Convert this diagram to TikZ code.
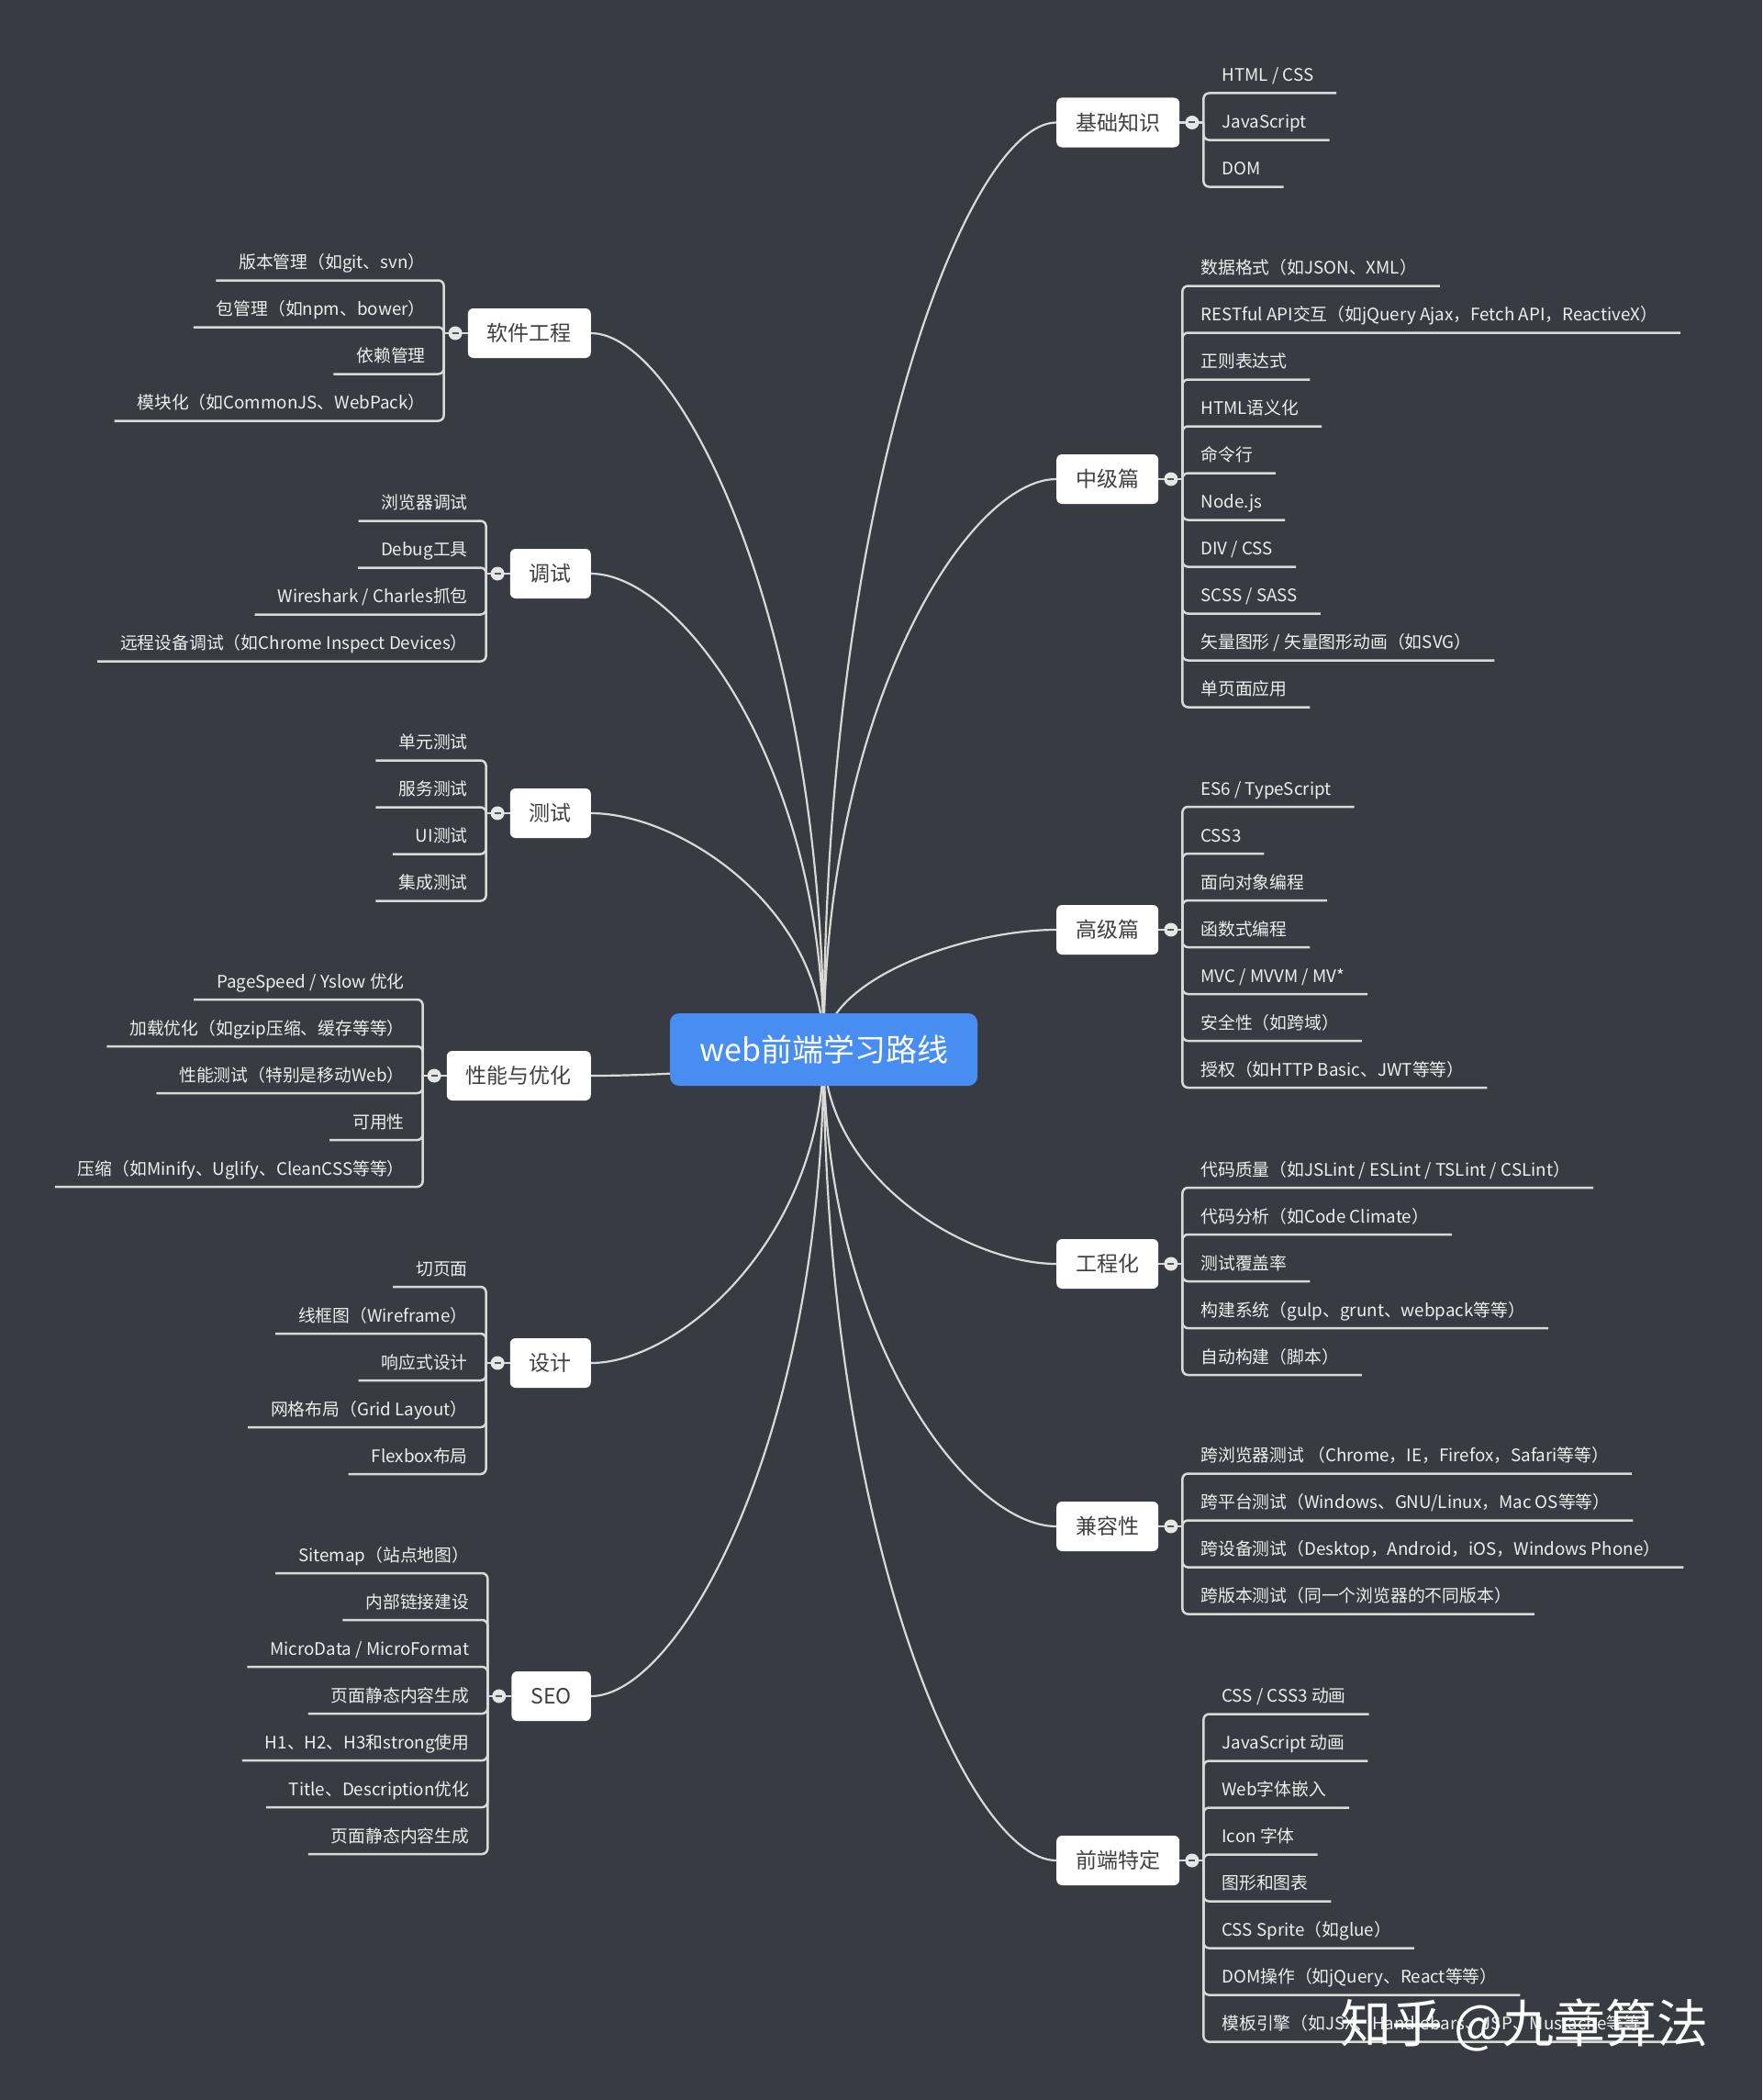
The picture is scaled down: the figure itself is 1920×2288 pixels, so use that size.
\documentclass[tikz,border=0pt]{standalone}
\usepackage{fontspec}
\setmainfont{Noto Sans CJK SC}
\usetikzlibrary{calc}
\pgfdeclarelayer{back}
\pgfsetlayers{back,main}

\begin{document}
\begin{tikzpicture}[x=1pt,y=-1pt]
	\definecolor{custcol_38_3b_41}{RGB}{56, 59, 65}
	\definecolor{custcol_48_8e_f2}{RGB}{72, 142, 242}
	\definecolor{custcol_d9_d9_d9}{RGB}{217, 217, 217}
	\definecolor{custcol_ee_ee_ee}{RGB}{238, 238, 238}
	\definecolor{custcol_e6_e6_e6}{RGB}{230, 230, 230}
	\definecolor{custcol_40_40_40}{RGB}{64, 64, 64}
	\definecolor{custcol_55_55_55}{RGB}{85, 85, 85}
	\tikzset{
		hub/.style={fill=custcol_48_8e_f2, text=white, rounded corners=10pt, minimum width=335pt, minimum height=79pt, font=\fontsize{34}{40}\selectfont},
		topic/.style={fill=white, text=custcol_40_40_40, rounded corners=6pt, inner xsep=21pt, minimum height=54pt, font=\fontsize{23}{26}\selectfont},
		leaf/.style={inner sep=0pt, outer sep=0pt, text=custcol_ee_ee_ee, font=\fontsize{18.8}{22}\selectfont},
		stem/.style={line width=2.5pt, custcol_d9_d9_d9},
		link/.style={line width=2.2pt, custcol_d9_d9_d9, to path={.. controls ($(\tikztostart)!0.6!(\tikztostart|-\tikztotarget)$) and ($(\tikztotarget)!0.38!(\tikztotarget-|\tikztostart)$) .. (\tikztotarget)}},
		knob/.style={circle, fill=custcol_e6_e6_e6, inner sep=0pt, minimum size=15pt, path picture={\draw[line width=2pt, custcol_55_55_55] ([xshift=4pt]path picture bounding box.west) -- ([xshift=-4pt]path picture bounding box.east);}},
		stamp/.style={text=white, font=\fontsize{56}{60}\selectfont}
	}
	% children on the right: #1 topic, #2 count, #3 texts
	\def\kidsR#1#2#3{%
		\path (#1.east) ++(13.5,0) coordinate (#1-c) ++(12.5,0) coordinate (#1-b);
		\draw[stem] (#1.east) -- (#1-b);
		\foreach \txt [count=\i] in {#3} {
			\pgfmathsetmacro\uy{(\i-(#2+1)/2)*51+19}
			\node[leaf, anchor=base west] (#1-\i) at ($(#1-b)+(20,\uy-13)$) {\txt};
			\draw[stem, rounded corners=6pt] (#1-b) |- ($(#1-\i.base east)+(25,13)$);
		}
		\node[knob] (#1-k) at (#1-c) {};
	}
	% children on the left
	\def\kidsL#1#2#3{%
		\path (#1.west) ++(-13.5,0) coordinate (#1-c) ++(-12.5,0) coordinate (#1-b);
		\draw[stem] (#1.west) -- (#1-b);
		\foreach \txt [count=\i] in {#3} {
			\pgfmathsetmacro\uy{(\i-(#2+1)/2)*51+19}
			\node[leaf, anchor=base east] (#1-\i) at ($(#1-b)+(-20,\uy-13)$) {\txt};
			\draw[stem, rounded corners=6pt] (#1-b) |- ($(#1-\i.base west)+(-25,13)$);
		}
		\node[knob] (#1-k) at (#1-c) {};
	}
	\useasboundingbox (0,0) rectangle (1920,2288);

	\node[hub] (hub) at (897.5,1143.5) {web前端学习路线};

	\node[topic, anchor=west] (jc) at (1151,133.5) {基础知识};
	\node[topic, anchor=west] (zj) at (1151,522) {中级篇};
	\node[topic, anchor=west] (gj) at (1151,1013) {高级篇};
	\node[topic, anchor=west] (gc) at (1151,1377) {工程化};
	\node[topic, anchor=west] (jr) at (1151,1663) {兼容性};
	\node[topic, anchor=west] (qd) at (1151,2027) {前端特定};

	\node[topic, anchor=east] (rj) at (644,363) {软件工程};
	\node[topic, anchor=east] (ts) at (644,625) {调试};
	\node[topic, anchor=east] (cs) at (644,886) {测试};
	\node[topic, anchor=east] (xn) at (644,1172) {性能与优化};
	\node[topic, anchor=east] (sj) at (644,1485) {设计};
	\node[topic, anchor=east] (seo) at (644,1848) {SEO};

	\kidsR{jc}{3}{{HTML / CSS},{JavaScript},{DOM}}
	\kidsR{zj}{10}{{数据格式（如JSON、XML）},{RESTful API交互（如jQuery Ajax，Fetch API，ReactiveX）},{正则表达式},{HTML语义化},{命令行},{Node.js},{DIV / CSS},{SCSS / SASS},{矢量图形 / 矢量图形动画（如SVG）},{单页面应用}}
	\kidsR{gj}{7}{{ES6 / TypeScript},{CSS3},{面向对象编程},{函数式编程},{MVC / MVVM / MV*},{安全性（如跨域）},{授权（如HTTP Basic、JWT等等）}}
	\kidsR{gc}{5}{{代码质量（如JSLint / ESLint / TSLint / CSLint）},{代码分析（如Code Climate）},{测试覆盖率},{构建系统（gulp、grunt、webpack等等）},{自动构建（脚本）}}
	\kidsR{jr}{4}{{跨浏览器测试 （Chrome，IE，Firefox，Safari等等）},{跨平台测试（Windows、GNU/Linux，Mac OS等等）},{跨设备测试（Desktop，Android，iOS，Windows Phone）},{跨版本测试（同一个浏览器的不同版本）}}
	\kidsR{qd}{8}{{CSS / CSS3 动画},{JavaScript 动画},{Web字体嵌入},{Icon 字体},{图形和图表},{CSS Sprite（如glue）},{DOM操作（如jQuery、React等等）},{模板引擎（如JSX、Handlebars、JSP、Mustache等等）}}

	\kidsL{rj}{4}{{版本管理（如git、svn）},{包管理（如npm、bower）},{依赖管理},{模块化（如CommonJS、WebPack）}}
	\kidsL{ts}{4}{{浏览器调试},{Debug工具},{Wireshark / Charles抓包},{远程设备调试（如Chrome Inspect Devices）}}
	\kidsL{cs}{4}{{单元测试},{服务测试},{UI测试},{集成测试}}
	\kidsL{xn}{5}{{PageSpeed / Yslow 优化},{加载优化（如gzip压缩、缓存等等）},{性能测试（特别是移动Web）},{可用性},{压缩（如Minify、Uglify、CleanCSS等等）}}
	\kidsL{sj}{5}{{切页面},{线框图（Wireframe）},{响应式设计},{网格布局（Grid Layout）},{Flexbox布局}}
	\kidsL{seo}{7}{{Sitemap（站点地图）},{内部链接建设},{MicroData / MicroFormat},{页面静态内容生成},{H1、H2、H3和strong使用},{Title、Description优化},{页面静态内容生成}}

	\node[stamp] (zh) at (1661,2206) {知乎 @九章算法};

	\begin{pgfonlayer}{back}
		\fill[custcol_38_3b_41] (0,0) rectangle (1920,2288);
		\foreach \n in {jc,zj,gj,gc,jr,qd} \draw[link] (hub.center) to (\n.west);
		\foreach \n in {rj,ts,cs,xn,sj,seo} \draw[link] (hub.center) to (\n.east);
	\end{pgfonlayer}
\end{tikzpicture}
\end{document}
